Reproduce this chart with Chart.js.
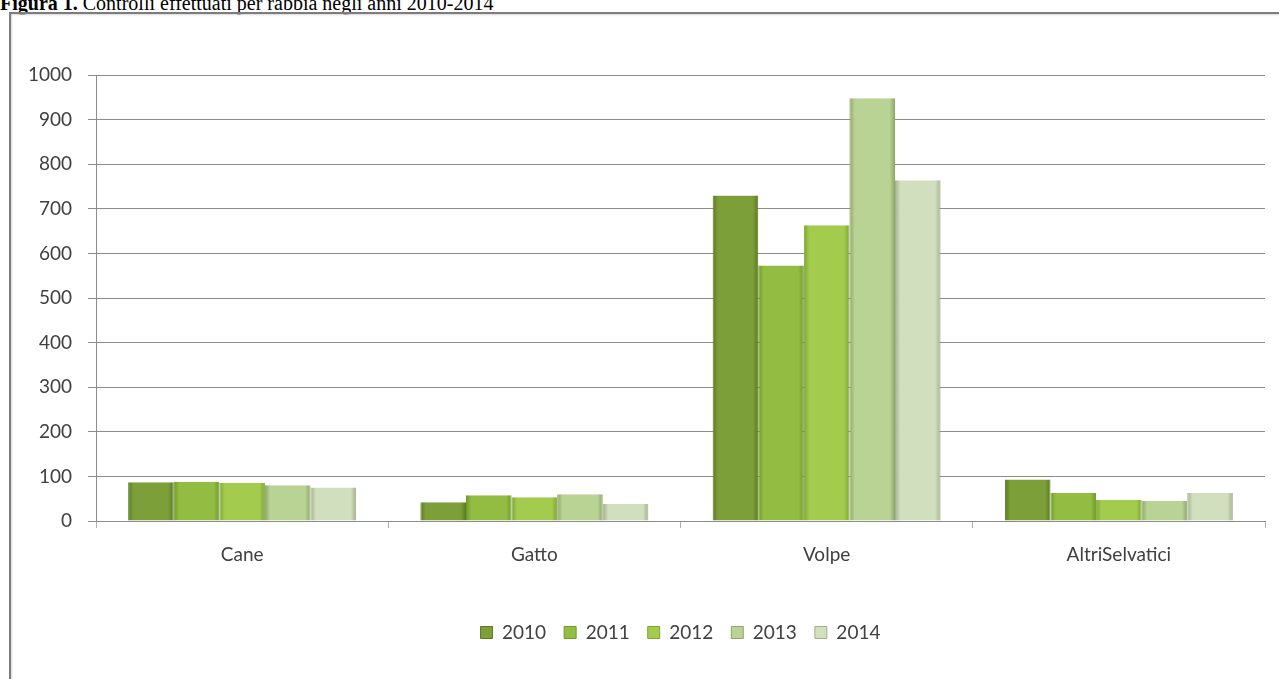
<!DOCTYPE html>
<html>
<head>
<meta charset="utf-8">
<script src="https://cdn.jsdelivr.net/npm/chart.js@4"></script>
<style>
  html, body { margin: 0; padding: 0; background: #fff; overflow: hidden; }
  #caption {
    position: absolute; left: 0; top: -7px;
    font: 20px/20px "Liberation Serif", "Times New Roman", serif;
    color: #000; white-space: nowrap;
  }
  #frame {
    position: absolute; left: 9px; top: 12px; width: 1300px; height: 700px;
    border: 2px solid #7d7d7d; box-shadow: inset 1px 1px 2px #d8d8d8;
  }
  #wrap { position: absolute; left: 0; top: 0; width: 1279px; height: 679px; }
</style>
</head>
<body>
<div id="caption"><b>Figura 1.</b> Controlli effettuati per rabbia negli anni 2010-2014</div>
<div id="frame"></div>
<div id="wrap"><canvas id="chart" width="1279" height="679"></canvas></div>
<script>
// categorie e anni
const categories = ["Cane", "Gatto", "Volpe", "AltriSelvatici"];
const years = ["2010", "2011", "2012", "2013", "2014"];

// controlli per anno
const y2010 = [87, 42, 730, 93];
const y2011 = [88, 58, 573, 63];
const y2012 = [85, 53, 663, 47];
const y2013 = [80, 60, 948, 45];
const y2014 = [75, 38, 764, 63];

const yTicks = [0, 100, 200, 300, 400, 500, 600, 700, 800, 900, 1000];

const series = [y2010, y2011, y2012, y2013, y2014];

// colori: bordo scuro, centro chiaro
const palette = [
  { mid: "#7c9f3a", edge: "#5a7a22" },
  { mid: "#93bd42", edge: "#6e9a2a" },
  { mid: "#a3cc4e", edge: "#7ea533" },
  { mid: "#b8d393", edge: "#8ea76a" },
  { mid: "#d2dfbe", edge: "#a3b08e" }
];

function shade(i) {
  return ctx => {
    const el = ctx.element;
    if (!el || el.width == null || isNaN(el.x)) return palette[i].mid;
    const c = ctx.chart.ctx;
    const g = c.createLinearGradient(el.x - el.width / 2, 0, el.x + el.width / 2, 0);
    g.addColorStop(0, palette[i].edge);
    g.addColorStop(0.12, palette[i].mid);
    g.addColorStop(0.88, palette[i].mid);
    g.addColorStop(1, palette[i].edge);
    return g;
  };
}

const font = { family: "Lato, 'DejaVu Sans', sans-serif", size: 19 };

const chart = new Chart(document.getElementById("chart"), {
  type: "bar",
  data: {
    labels: categories,
    datasets: years.map((y, i) => ({
      label: y,
      data: series[i],
      backgroundColor: shade(i),
      borderColor: palette[i].edge,
      borderWidth: { top: 0, left: 1, right: 1, bottom: 0 },
      categoryPercentage: 0.78,
      barPercentage: 1.0
    }))
  },
  options: {
    responsive: false,
    animation: false,
    layout: { padding: { left: 0, right: 14, top: 75, bottom: 27 } },
    plugins: {
      tooltip: { enabled: false },
      legend: {
        position: "bottom",
        fullSize: false,
        labels: {
          color: "#404040",
          font: font,
          boxWidth: 12,
          boxHeight: 12,
          padding: 18,
          generateLabels: ch => years.map((y, i) => ({
            text: y,
            fillStyle: palette[i].mid,
            strokeStyle: palette[i].edge,
            lineWidth: 1,
            datasetIndex: i,
            fontColor: "#404040"
          }))
        }
      }
    },
    scales: {
      x: {
        grid: { drawOnChartArea: false, offset: true, color: "#b0b0b0", tickLength: 7 },
        border: { display: true, color: "#8c8c8c" },
        ticks: { color: "#404040", font: font, padding: 15 },
        afterFit: s => { s.height = 84; }
      },
      y: {
        min: 0,
        max: 1000,
        afterBuildTicks: s => { s.ticks = yTicks.map(v => ({ value: v })); },
        grid: { color: "#8c8c8c", tickLength: 8 },
        border: { display: true, color: "#8c8c8c" },
        ticks: { color: "#404040", font: font, padding: 16, callback: v => String(v) },
        afterFit: s => { s.width = 96; }
      }
    }
  }
});

// secondo passaggio per le sfumature delle barre
chart.update();
</script>
</body>
</html>
